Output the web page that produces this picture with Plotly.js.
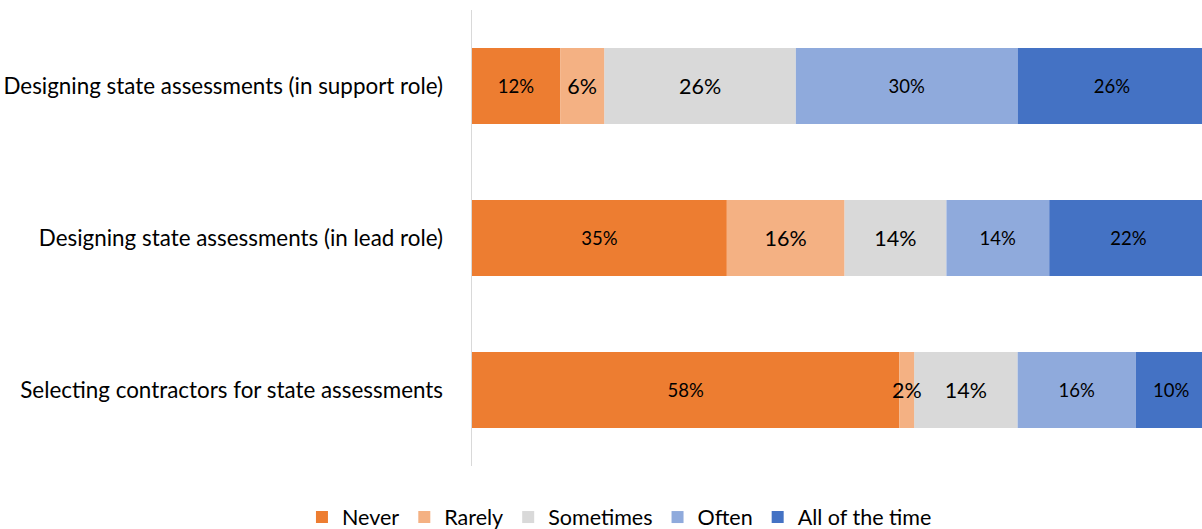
<!DOCTYPE html>
<html>
<head>
<meta charset="utf-8">
<script src="https://cdn.plot.ly/plotly-3.0.1.min.js"></script>
<style>html,body{margin:0;padding:0;background:#fff;}#chart{width:1202px;height:529px;}</style>
</head>
<body>
<div id="chart"></div>
<script>
// Categories, listed top to bottom
const categories = [
  "Designing state assessments (in support role)",
  "Designing state assessments (in lead role)",
  "Selecting contractors for state assessments"
];
const seriesNames = ["Never", "Rarely", "Sometimes", "Often", "All of the time"];
// Percent values (labels are rounded)
const never     = [12.0, 34.7, 58.2];
const rarely    = [6.0, 16.0, 2.0];
const sometimes = [26.1, 13.9, 14.1];
const often     = [30.2, 14.0, 16.1];
const allTime   = [25.7, 21.6, 9.6];

const seriesValues = [never, rarely, sometimes, often, allTime];
const colors = ["#ED7D31", "#F4B183", "#D9D9D9", "#8FAADC", "#4472C4"];
const labelSizes = [18.5, 21.5, 21.5, 18.5, 18.5];
const FONT = "Lato, 'Open Sans', sans-serif";

// Cumulative bases so each segment starts where the previous one ends
const bases = [];
let running = categories.map(() => 0);
seriesValues.forEach(vals => {
  bases.push(running.slice());
  running = running.map((r, j) => r + vals[j]);
});

const makeTrace = i => ({
  type: "bar",
  orientation: "h",
  name: seriesNames[i],
  legendrank: i + 1,
  y: categories,
  x: seriesValues[i],
  base: bases[i],
  marker: {color: colors[i], line: {width: 0}},
  texttemplate: "%{x:.0f}%",
  textposition: "inside",
  insidetextanchor: "middle",
  constraintext: "none",
  textangle: 0,
  textfont: {family: FONT, size: labelSizes[i], color: "#000000"},
  hoverinfo: "name+x"
});

// Draw "Rarely" last so its label sits on top of neighbouring segments
const drawOrder = [0, 2, 3, 4, 1];
const traces = drawOrder.map(makeTrace);

const layout = {
  width: 1202,
  height: 529,
  barmode: "overlay",
  bargap: 0.5,
  margin: {l: 471.5, r: 0, t: 10, b: 63, autoexpand: false},
  paper_bgcolor: "#ffffff",
  plot_bgcolor: "#ffffff",
  font: {family: FONT, color: "#000000"},
  xaxis: {
    range: [0, 99.4],
    visible: false,
    fixedrange: true
  },
  yaxis: {
    autorange: "reversed",
    showline: true,
    linecolor: "#d9d9d9",
    linewidth: 1.5,
    ticks: "",
    showgrid: false,
    zeroline: false,
    ticklabelstandoff: 23,
    tickfont: {family: FONT, size: 22.4, color: "#000000"},
    fixedrange: true
  },
  showlegend: true,
  legend: {
    orientation: "h",
    x: 0.202,
    xanchor: "center",
    y: -0.112,
    yanchor: "middle",
    traceorder: "normal",
    font: {family: FONT, size: 21.5, color: "#000000"},
    itemwidth: 30,
    itemclick: false,
    itemdoubleclick: false
  }
};

Plotly.newPlot("chart", traces, layout, {displayModeBar: false, staticPlot: true});
</script>
</body>
</html>
